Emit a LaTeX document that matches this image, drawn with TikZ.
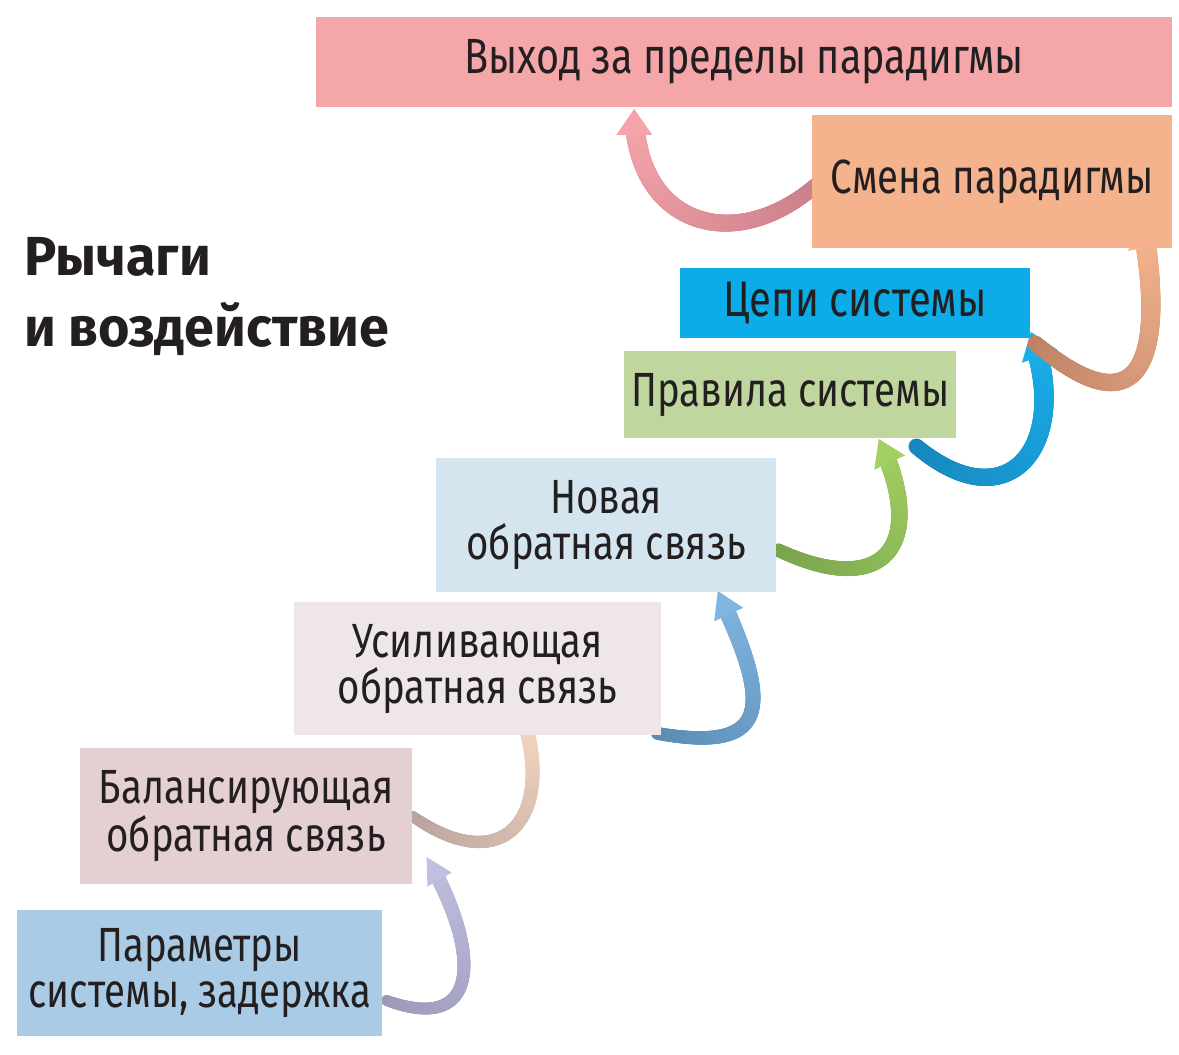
\documentclass[tikz,border=0pt]{standalone}
\usepackage{fontspec}
\setmainfont{Fira Sans}[FakeStretch=0.80]
\newfontfamily\headfont{Fira Sans}[FakeStretch=0.98]
\usetikzlibrary{decorations.markings,backgrounds}

\definecolor{txt}{HTML}{231F20}
\definecolor{cOut}{HTML}{F5A6A9}
\definecolor{cChange}{HTML}{F5B38D}
\definecolor{cLinks}{HTML}{0BACE8}
\definecolor{cRules}{HTML}{BFD79E}
\definecolor{cNew}{HTML}{D5E5EF}
\definecolor{cReinf}{HTML}{EEE6E9}
\definecolor{cBal}{HTML}{E4D0D2}
\definecolor{cPar}{HTML}{A9CBE6}
\definecolor{a1t}{HTML}{9B98B8}\definecolor{a1h}{HTML}{BFC0E0}
\definecolor{a2t}{HTML}{B7A39C}\definecolor{a2h}{HTML}{F9D8C2}
\definecolor{a3t}{HTML}{5B8BB2}\definecolor{a3h}{HTML}{80B5E2}
\definecolor{a4t}{HTML}{78A34C}\definecolor{a4h}{HTML}{A2D063}
\definecolor{a5t}{HTML}{1787BE}\definecolor{a5h}{HTML}{1AAEEA}
\definecolor{a6t}{HTML}{BE8266}\definecolor{a6h}{HTML}{F5B58E}
\definecolor{a7t}{HTML}{C77D87}\definecolor{a7h}{HTML}{F6A4AB}

\begin{document}
\begin{tikzpicture}[x=1pt,y=1pt,
    box/.style={anchor=north west,inner sep=0pt,align=center,text=txt,font=\fontsize{48}{46}\selectfont},
    arw/.style n args={4}{postaction={decorate,decoration={markings,
        mark=between positions 0 and -20pt step 1pt with {
            \pgfmathsetmacro\fr{\pgfkeysvalueof{/pgf/decoration/mark info/distance from start}/\pgfdecoratedpathlength}
            \pgfmathtruncatemacro\pc{100*\fr}
            \fill[#2!\pc!#1] (0,0) circle ({#3*(0.75+0.25*\fr)});}}},
        postaction={decorate,decoration={markings,
        mark=at position 0.998 with {\fill[#2] (2,0) -- (-24,#4) -- (-24,-#4) -- cycle;}}}}]
    \useasboundingbox (0,0) rectangle (1179,-1055);

    \node[box,fill=cOut,minimum width=856,minimum height=90,font=\fontsize{49.5}{46}\selectfont](beyond) at (316,-17) {Выход за пределы парадигмы};
    \node[box,fill=cChange,minimum width=360,minimum height=133](change) at (812,-115) {Смена парадигмы\vphantom{Ц}};
    \node[box,fill=cLinks,minimum width=350,minimum height=70,font=\fontsize{50}{46}\selectfont](links) at (680,-268) {Цепи системы};
    \node[box,fill=cRules,minimum width=332,minimum height=87](rules) at (624,-351) {Правила системы};
    \node[box,fill=cNew,minimum width=340,minimum height=134](newfb) at (436,-458) {Новая\\обратная связь};
    \node[box,fill=cReinf,minimum width=367,minimum height=133](reinf) at (294,-602) {Усиливающая\\обратная связь};
    \node[box,fill=cBal,minimum width=332,minimum height=136](balance) at (80,-748) {Балансирующая\\обратная связь};
    \node[box,fill=cPar,minimum width=365,minimum height=126](params) at (17,-910) {Параметры\\системы, задержка};

    \node[anchor=north west,inner sep=0pt,align=left,text=txt,font=\headfont\bfseries\fontsize{55}{71}\selectfont](title) at (24,-237) {Рычаги\\и воздействие};

    \begin{scope}[on background layer]
    \path[arw={a1t}{a1h}{7.5}{14}]([shift={(4,36)}]params.south east) to[out=-20,in=-60,looseness=1.8] ([shift={(15,26)}]balance.south east);
    \path[arw={a2t}{a2h}{7.5}{14}](balance.east) to[out=-35,in=-70,looseness=1.9] ([shift={(42,28)}]reinf.south);
    \path[arw={a3t}{a3h}{8.5}{16}]([shift={(-4,2)}]reinf.south east) to[out=-10,in=-65,looseness=2] ([shift={(-58,0)}]newfb.south east);
    \path[arw={a4t}{a4h}{9}{17}]([shift={(2,-25)}]newfb.east) to[out=-25,in=-65,looseness=2] ([shift={(-77,-2)}]rules.south east);
    \path[arw={a5t}{a5h}{10.5}{19}]([shift={(-40,-8)}]rules.south east) to[out=-40,in=-70,looseness=1.9] ([shift={(1,5)}]links.south east);
    \path[arw={a6t}{a6h}{10.5}{19}]([shift={(5,-5)}]links.south east) to[out=-40,in=-80,looseness=2.2] ([shift={(-30,25)}]change.south east);
    \path[arw={a7t}{a7h}{10}{18}]([shift={(15,-60)}]change.north west) to[out=-135,in=-90,looseness=1.5] ([shift={(-110,-3)}]beyond.south);
    \end{scope}
\end{tikzpicture}
\end{document}
